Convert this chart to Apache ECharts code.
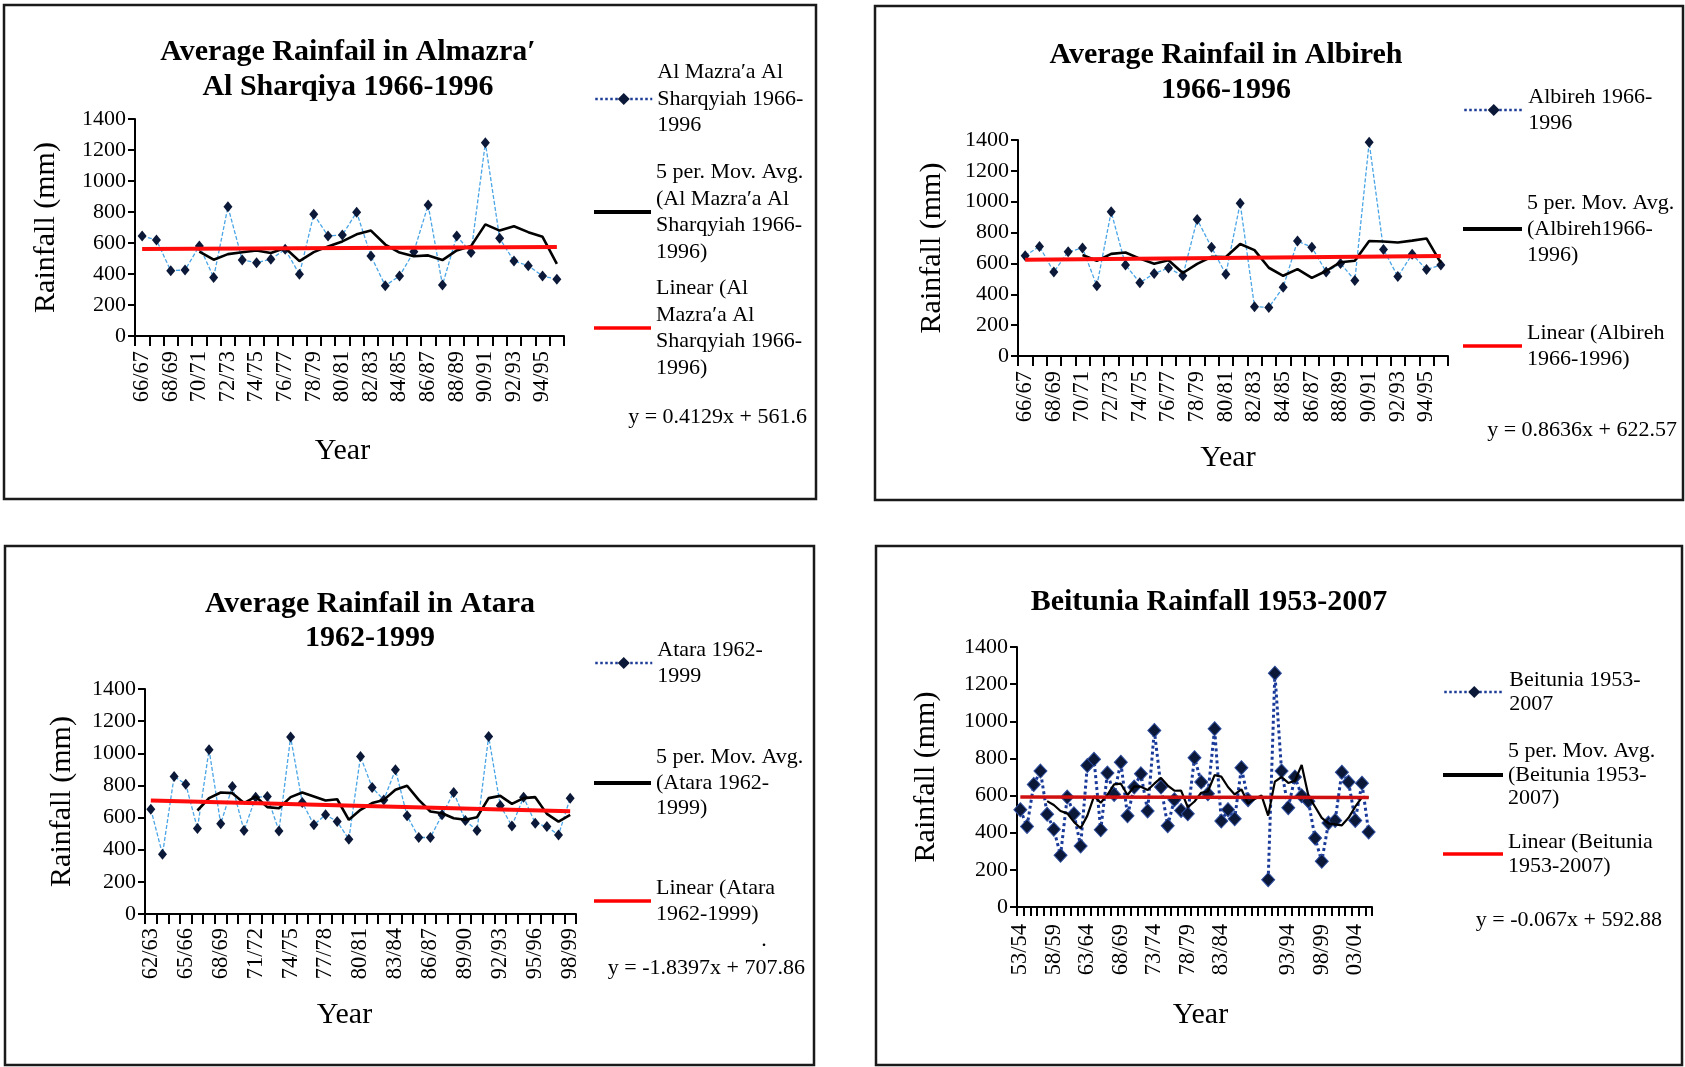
<!DOCTYPE html>
<html><head><meta charset="utf-8">
<script src="https://cdn.jsdelivr.net/npm/echarts@6/dist/echarts.min.js"></script>
<style>html,body{margin:0;padding:0;background:#fff}#c{width:1685px;height:1067px}</style>
</head><body><div id="c"></div>
<script>
// ---------- DATA ----------
const mazraCats = ['66/67','67/68','68/69','69/70','70/71','71/72','72/73','73/74','74/75','75/76','76/77','77/78','78/79','79/80','80/81','81/82','82/83','83/84','84/85','85/86','86/87','87/88','88/89','89/90','90/91','91/92','92/93','93/94','94/95','95/96'];
const mazraRain = [645,619,421,426,581,378,834,490,473,495,559,398,785,645,652,798,516,325,387,544,845,329,645,538,1247,630,484,454,387,366];
const mazraMA = [null,null,null,null,545,492,528,540,552,535,568,483,541,578,610,656,680,590,538,515,520,490,552,580,720,680,708,670,640,466];
const mazraTrend = [562.0,574.0];

const albirehCats = ['66/67','67/68','68/69','69/70','70/71','71/72','72/73','73/74','74/75','75/76','76/77','77/78','78/79','79/80','80/81','81/82','82/83','83/84','84/85','85/86','86/87','87/88','88/89','89/90','90/91','91/92','92/93','93/94','94/95','95/96'];
const albirehRain = [650,710,545,675,700,455,935,590,475,535,570,520,885,705,530,990,320,315,445,745,705,545,600,490,1385,690,515,660,560,590];
const albirehMA = [null,null,null,null,655,617,662,671,631,598,621,538,597,643,642,726,686,572,520,563,506,551,608,617,745,742,736,748,762,603];
const albirehTrend = [623.4,648.5];

const ataraCats = ['62/63','63/64','64/65','65/66','66/67','67/68','68/69','69/70','70/71','71/72','72/73','73/74','74/75','75/76','76/77','77/78','78/79','79/80','80/81','81/82','82/83','83/84','84/85','85/86','86/87','87/88','88/89','89/90','90/91','91/92','92/93','93/94','94/95','95/96','96/97','97/98','98/99'];
const ataraRain = [652,372,856,808,532,1022,561,793,519,727,731,517,1101,694,555,617,575,465,980,787,710,897,611,476,476,617,756,582,519,1105,675,548,727,565,544,492,721];
const ataraMA = [null,null,null,null,644,721,756,752,690,731,665,658,727,756,731,706,714,586,648,690,710,773,798,710,638,627,596,586,602,721,735,685,721,727,623,575,617];
const ataraTrend = [706.0,639.8];

const beitCats = ['53/54','54/55','55/56','56/57','57/58','58/59','59/60','60/61','61/62','62/63','63/64','64/65','65/66','66/67','67/68','68/69','69/70','70/71','71/72','72/73','73/74','74/75','75/76','76/77','77/78','78/79','79/80','80/81','81/82','82/83','83/84','84/85','85/86','86/87','87/88','88/89','89/90','90/91','91/92','92/93','93/94','94/95','95/96','96/97','97/98','98/99','99/00','00/01','01/02','02/03','03/04','04/05','05/06'];
const beitTickLabels = ['53/54','58/59','63/64','68/69','73/74','78/79','83/84','93/94','98/99','03/04'];
const beitRain = [524,434,660,732,499,418,278,592,502,328,762,795,416,721,606,780,491,646,717,517,951,646,438,578,520,502,804,673,610,960,463,524,475,750,578,null,null,147,1259,732,535,700,599,570,371,246,452,466,726,673,466,667,404];
const beitMA = [null,null,null,null,570,549,517,504,458,424,492,596,561,604,660,664,603,649,648,630,664,695,654,626,627,537,568,615,622,710,702,646,606,634,558,582,601,492,675,700,668,680,765,600,540,480,450,445,440,480,540,590,590];
const beitTrend = [592.8,589.3];

const yTicks = [0,200,400,600,800,1000,1200,1400];

// ---------- LAYOUT / STYLE ----------
const SERIF = '"Liberation Serif","Times New Roman",serif';
const panels = [
  {cats:mazraCats, vals:mazraRain, ma:mazraMA, trend:mazraTrend,
   names:['Al Mazra′a Al\nSharqyiah 1966-\n1996','5 per. Mov. Avg.\n(Al Mazra′a Al\nSharqyiah 1966-\n1996)','Linear (Al\nMazra′a Al\nSharqyiah 1966-\n1996)'],
   grid:{left:135,top:119,width:429,height:217}, labInt:1, labFmt:null, labMargin:15,
   yGap:73.5, xGap:100, xPad:[0,14,0,0],
   legLeft:594, legW:57, legC:[99,212,328], lh:26.5,
   title:'Average Rainfail in Almazra′\nAl Sharqiya 1966-1996', tx:348, ty:69.5, tlh:35,
   eq:'y = 0.4129x + 561.6', ex:807, ey:417, big:false,
   box:[4,5,812,494]},
  {cats:albirehCats, vals:albirehRain, ma:albirehMA, trend:albirehTrend,
   names:['Albireh 1966-\n1996','5 per. Mov. Avg.\n(Albireh1966-\n1996)','Linear (Albireh\n1966-1996)'],
   grid:{left:1018,top:140,width:430,height:216}, labInt:1, labFmt:null, labMargin:15,
   yGap:70.5, xGap:87, xPad:[0,10,0,0],
   legLeft:1463, legW:59, legC:[110,229,346], lh:26,
   title:'Average Rainfail in Albireh\n1966-1996', tx:1226, ty:72.5, tlh:35,
   eq:'y = 0.8636x + 622.57', ex:1677, ey:430, big:false,
   box:[875,6,808,494]},
  {cats:ataraCats, vals:ataraRain, ma:ataraMA, trend:ataraTrend,
   names:['Atara 1962-\n1999','5 per. Mov. Avg.\n(Atara 1962-\n1999)','Linear (Atara\n1962-1999)'],
   grid:{left:145,top:689,width:431,height:225}, labInt:2, labFmt:null, labMargin:14,
   yGap:67.5, xGap:86, xPad:[0,32,0,0],
   legLeft:594, legW:57, legC:[663,783,901], lh:25.5,
   title:'Average Rainfail in Atara\n1962-1999', tx:370, ty:621, tlh:34,
   eq:'y = -1.8397x + 707.86', ex:805, ey:968, big:false,
   box:[5,546,809,519]},
  {cats:beitCats, vals:beitRain, ma:beitMA, trend:beitTrend,
   names:['Beitunia 1953-\n2007','5 per. Mov. Avg.\n(Beitunia 1953-\n2007)','Linear (Beitunia\n1953-2007)'],
   grid:{left:1017,top:647,width:355,height:260}, labInt:0, labMargin:17,
   labFmt:(v)=>beitTickLabels.indexOf(v)>=0?v:'',
   yGap:75.5, xGap:93, xPad:[0,0,0,12],
   legLeft:1443, legW:60, legC:[692,775,854], lh:23.5,
   title:'Beitunia Rainfall 1953-2007', tx:1209, ty:602, tlh:35,
   eq:'y = -0.067x + 592.88', ex:1662, ey:920, big:true,
   box:[876,546,806,519]}
];

const grids=[], xAxes=[], yAxes=[], series=[], legends=[], graphics=[];
panels.forEach((p,i)=>{
  grids.push(Object.assign({containLabel:false}, p.grid));
  xAxes.push({
    type:'category', gridIndex:i, data:p.cats, boundaryGap:true,
    name:'Year', nameLocation:'middle', nameGap:p.xGap,
    nameTextStyle:{fontFamily:SERIF, fontSize:30, color:'#000', padding:p.xPad},
    axisLine:{show:true, lineStyle:{color:'#000', width:2}},
    axisTick:{show:true, interval:0, length:p.big?9:10, lineStyle:{color:'#000', width:2}},
    axisLabel:{rotate:90, interval:p.labInt, fontFamily:SERIF, fontSize:22.5, color:'#000', margin:p.labMargin,
      formatter:p.labFmt||undefined},
    splitLine:{show:false}
  });
  yAxes.push({
    type:'value', gridIndex:i, min:yTicks[0], max:yTicks[yTicks.length-1], interval:200,
    name:'Rainfall (mm)', nameLocation:'middle', nameGap:p.yGap, nameRotate:90,
    nameTextStyle:{fontFamily:SERIF, fontSize:30, color:'#000'},
    axisLine:{show:true, lineStyle:{color:'#000', width:2}},
    axisTick:{show:true, length:7, lineStyle:{color:'#000', width:2}},
    axisLabel:{fontFamily:SERIF, fontSize:22, color:'#000', margin:9, formatter:(v)=>String(v)},
    splitLine:{show:false}
  });
  const n = p.cats.length;
  series.push({
    type:'line', name:p.names[0], xAxisIndex:i, yAxisIndex:i, data:p.vals,
    symbol:'diamond', symbolSize:p.big?[13,14]:[9,11], showSymbol:true, showAllSymbol:true, connectNulls:false,
    itemStyle:{color:'#0b1838', borderColor:p.big?'#2d4c9e':'#0b1838', borderWidth:p.big?1:0},
    lineStyle:p.big?{color:'#1a3a9a', width:3, type:'dotted'}:{color:'#4aa5e6', width:1.3, type:[4,2]},
    z:2, animation:false
  });
  series.push({
    type:'line', name:p.names[1], xAxisIndex:i, yAxisIndex:i, data:p.ma,
    symbol:'none', connectNulls:false,
    itemStyle:{color:'#000'}, lineStyle:{color:'#000', width:p.big?2.2:2.6},
    z:3, animation:false
  });
  series.push({
    type:'line', name:p.names[2], xAxisIndex:i, yAxisIndex:i,
    data:[[p.cats[0], p.trend[0]], [p.cats[n-1], p.trend[1]]],
    symbol:'none', itemStyle:{color:'#ff0000'},
    lineStyle:{color:p.big?'#d01010':'#ff0d0d', width:p.big?3.5:4},
    z:4, animation:false
  });
  p.names.forEach((nm,k)=>{
    const lines = nm.split('\n').length;
    const L = {
      data:[nm], orient:'vertical', left:p.legLeft, top:p.legC[k]-lines*p.lh/2, padding:0,
      itemWidth:p.legW, itemGap:0, selectedMode:false,
      textStyle:{fontFamily:SERIF, fontSize:22, lineHeight:p.lh, color:'#000'}
    };
    if(k===0){
      L.itemHeight=15;
      L.itemStyle={color:'#0b1838', borderWidth:0};
      L.lineStyle={color:'#1c3c96', type:'dotted', width:2.5};
    } else if(k===1){
      L.icon='rect'; L.itemHeight=4; L.itemStyle={color:'#000', borderWidth:0};
    } else {
      L.icon='rect'; L.itemHeight=3.5; L.itemStyle={color:'#ff0000', borderWidth:0};
    }
    legends.push(L);
  });
  graphics.push({type:'rect', shape:{x:p.box[0], y:p.box[1], width:p.box[2], height:p.box[3]},
    style:{fill:'none', stroke:'#1a1a1a', lineWidth:2.5}, silent:true});
  graphics.push({type:'text', x:p.tx, y:p.ty, silent:true,
    style:{text:p.title, fontFamily:SERIF, fontWeight:'bold', fontSize:30, lineHeight:p.tlh,
      fill:'#000', align:'center', verticalAlign:'middle'}});
  graphics.push({type:'text', x:p.ex, y:p.ey, silent:true,
    style:{text:p.eq, fontFamily:SERIF, fontSize:22, fill:'#000', align:'right', verticalAlign:'middle'}});
});
graphics.push({type:'text', x:764, y:940, silent:true,
  style:{text:'.', fontFamily:SERIF, fontSize:22, fill:'#000', align:'center', verticalAlign:'middle'}});

const chart = echarts.init(document.getElementById('c'), null, {renderer:'canvas'});
chart.setOption({
  animation:false, backgroundColor:'#fff',
  grid:grids, xAxis:xAxes, yAxis:yAxes, series:series, legend:legends, graphic:graphics
});
</script></body></html>
